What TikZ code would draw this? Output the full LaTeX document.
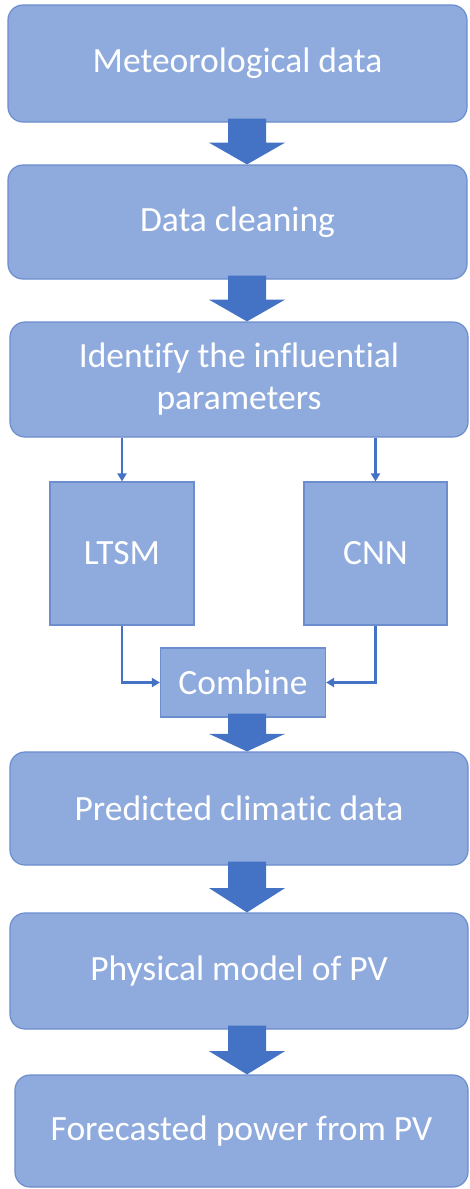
\documentclass[tikz,border=0pt]{standalone}
\usepackage{fontspec}
\setmainfont{Carlito}[Ligatures={NoCommon}]
\usetikzlibrary{arrows.meta,calc}
\definecolor{boxcol}{RGB}{143,170,220}
\definecolor{edgecol}{RGB}{108,141,206}
\definecolor{arrcol}{RGB}{68,114,196}
\newcommand{\blockarrow}[2]{%
  \fill[arrcol] let \p1=(#1.south), \p2=(#2.north) in
    (228pt,\y1+4pt) -- (266pt,\y1+4pt) -- (266pt,{\y2+0.52*(\y1-\y2)}) --
    (285pt,{\y2+0.52*(\y1-\y2)}) -- (247pt,\y2) -- (209pt,{\y2+0.52*(\y1-\y2)}) --
    (228pt,{\y2+0.52*(\y1-\y2)}) -- cycle;}
\begin{document}
\begin{tikzpicture}[x=1pt,y=-1pt,
  bigbox/.style={draw=edgecol,line width=1.2pt,fill=boxcol,rounded corners=15pt,
    text=white,font=\fontsize{35.5}{42}\selectfont,align=center,inner sep=0pt},
  sqbox/.style={draw=edgecol,line width=1.2pt,fill=boxcol,
    text=white,font=\fontsize{35.5}{42}\selectfont,align=center,inner sep=0pt},
  thinarr/.style={draw=arrcol,line width=2.4pt,-{Triangle[width=9pt,length=8pt]}}]
\useasboundingbox (0,0) rectangle (470,1189);
\fill[white] (0,0) rectangle (470,1189);
% main boxes
\node[bigbox,minimum width=459pt,minimum height=117pt] (b1) at (237.5,63.5) {Meteorological data};
\node[bigbox,minimum width=459pt,minimum height=114pt] (b2) at (237.5,222) {Data cleaning};
\node[bigbox,minimum width=458pt,minimum height=115pt] (b3) at (239,379.5) {Identify the influential\\parameters};
\node[sqbox,minimum width=144pt,minimum height=143pt] (ltsm) at (122,553.5) {LTSM};
\node[sqbox,minimum width=143pt,minimum height=143pt] (cnn) at (375.5,553.5) {CNN};
\node[sqbox,minimum width=165pt,minimum height=69pt] (comb) at (243,682.5) {Combine};
\node[bigbox,minimum width=458pt,minimum height=113pt] (b4) at (239,808.5) {Predicted climatic data};
\node[bigbox,minimum width=458pt,minimum height=116pt] (b5) at (239,971) {Physical model of PV};
\node[bigbox,minimum width=453pt,minimum height=112pt] (b6) at (241.5,1131) {Forecasted power from PV};
% block arrows
\blockarrow{b1}{b2}
\blockarrow{b2}{b3}
\blockarrow{comb}{b4}
\blockarrow{b4}{b5}
\blockarrow{b5}{b6}
% thin arrows
\draw[thinarr] (ltsm.north |- b3.south) -- (ltsm.north);
\draw[thinarr] (cnn.north |- b3.south) -- (cnn.north);
\draw[thinarr] (ltsm.south) |- (comb.west);
\draw[thinarr] (cnn.south) |- (comb.east);
\end{tikzpicture}
\end{document}
